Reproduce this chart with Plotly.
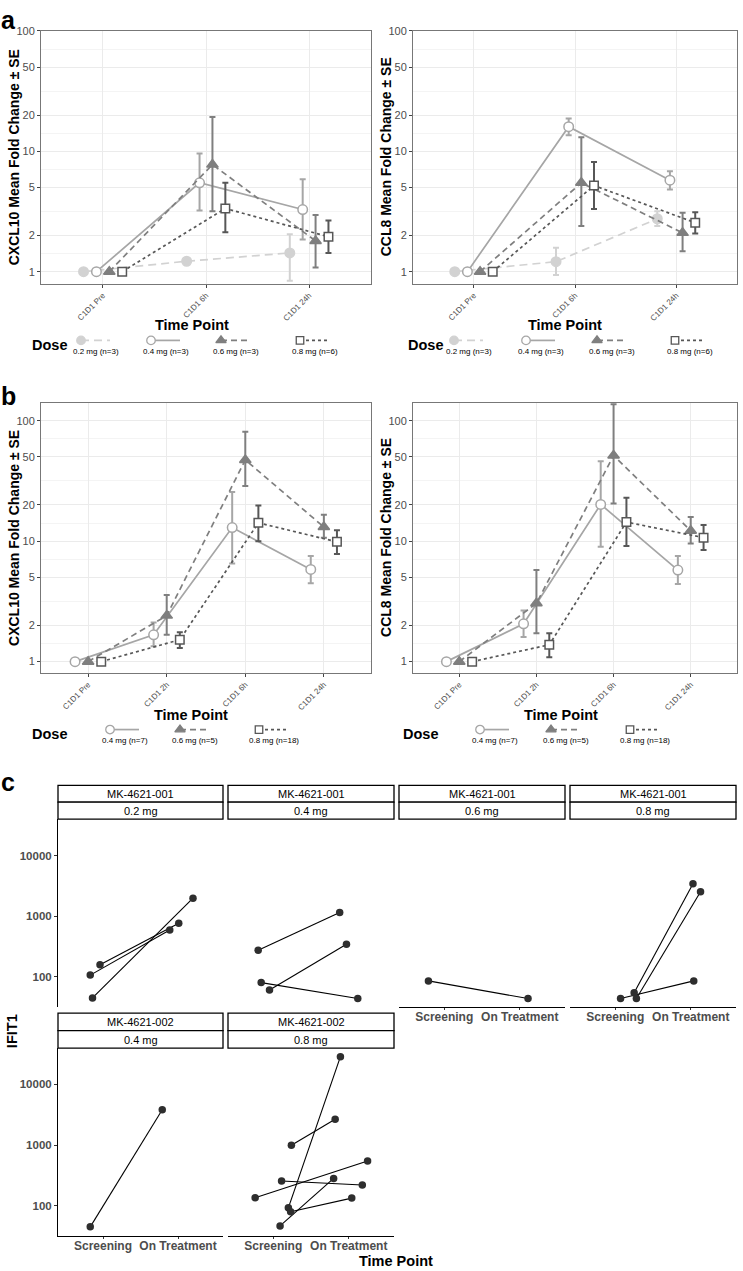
import numpy as np
import plotly.graph_objects as go

W, H = 743, 1271
FONT = "Liberation Sans"

# ---------------- data: panel a ----------------
a_times = ["C1D1 Pre", "C1D1 6h", "C1D1 24h"]
a_doses = ["0.2", "0.4", "0.6", "0.8"]
a_labels = ["0.2 mg (n=3)", "0.4 mg (n=3)", "0.6 mg (n=3)", "0.8 mg (n=6)"]
a_cxcl10_mean = [[1, 1.22, 1.43], [1, 5.47, 3.28], [1, 7.75, 1.80], [1, 3.35, 1.95]]
a_cxcl10_upper = [[1, 1.22, 2.04], [1, 9.6, 5.86], [1, 19.3, 2.95], [1, 5.47, 2.66]]
a_cxcl10_lower = [[1, 1.22, 0.84], [1, 3.22, 1.85], [1, 3.18, 1.08], [1, 2.12, 1.43]]
a_ccl8_mean = [[1, 1.21, 2.75], [1, 16.0, 5.75], [1, 5.47, 2.10], [1, 5.19, 2.55]]
a_ccl8_upper = [[1, 1.58, 3.18], [1, 18.7, 6.83], [1, 13.1, 3.08], [1, 8.16, 3.12]]
a_ccl8_lower = [[1, 0.94, 2.39], [1, 13.6, 4.81], [1, 2.39, 1.48], [1, 3.31, 2.07]]

# ---------------- data: panel b ----------------
b_times = ["C1D1 Pre", "C1D1 2h", "C1D1 6h", "C1D1 24h"]
b_doses = ["0.4", "0.6", "0.8"]
b_labels = ["0.4 mg (n=7)", "0.6 mg (n=5)", "0.8 mg (n=18)"]
b_cxcl10_mean = [[1, 1.67, 12.97, 5.83], [1, 2.41, 47.3, 13.1], [1, 1.52, 14.2, 9.87]]
b_cxcl10_upper = [[1, 2.11, 25.6, 7.52], [1, 3.58, 81, 16.6], [1, 1.75, 19.8, 12.3]]
b_cxcl10_lower = [[1, 1.34, 6.54, 4.47], [1, 1.67, 28.7, 10.7], [1, 1.30, 10.0, 7.81]]
b_ccl8_mean = [[1, 2.06, 20.2, 5.76], [1, 3.05, 51.4, 12.2], [1, 1.38, 14.4, 10.7]]
b_ccl8_upper = [[1, 2.66, 46.1, 7.52], [1, 5.76, 137, 15.9], [1, 1.72, 22.9, 13.6]]
b_ccl8_lower = [[1, 1.6, 8.98, 4.41], [1, 1.72, 20.5, 9.57], [1, 1.09, 9.1, 8.43]]

# ---------------- data: panel c (IFIT1) ----------------
c_studies = ["MK-4621-001", "MK-4621-001", "MK-4621-001", "MK-4621-001", "MK-4621-002", "MK-4621-002"]
c_dose_labels = ["0.2 mg", "0.4 mg", "0.6 mg", "0.8 mg", "0.4 mg", "0.8 mg"]
c_timepoints = ["Screening", "On Treatment"]
c_screening = [[107, 158, 45], [276, 61, 80.6], [86], [55, 44, 44], [45],
               [135.5, 256, 993, 46.7, 92.6, 79.6]]
c_on_treatment = [[594, 767, 1980], [1148, 346, 44], [44], [3444, 2540, 86], [3820],
                  [547, 220, 2670, 283, 28700, 134]]
# horizontal jitter (category units)
c_jitter_screening = [[-0.17, -0.04, -0.14], [-0.2, -0.05, -0.16], [-0.21], [0.25, 0.28, 0.07], [-0.17],
                      [-0.24, 0.11, 0.24, 0.09, 0.2, 0.23]]
c_jitter_on_treatment = [[-0.11, 0.01, 0.2], [-0.12, -0.03, 0.12], [0.11], [0.03, 0.13, 0.04], [-0.21],
                         [0.25, 0.18, -0.18, -0.2, -0.11, 0.04]]

# ---------------- styles ----------------
STY = {
    "0.2": dict(color="#d2d2d2", symbol="circle", fill="#d2d2d2", dash="8px,5px", size=9.5),
    "0.4": dict(color="#a6a6a6", symbol="circle", fill="white", dash="solid", size=9.5),
    "0.6": dict(color="#7f7f7f", symbol="triangle-up", fill="#7f7f7f", dash="6px,4px", size=10),
    "0.8": dict(color="#575757", symbol="square", fill="white", dash="3px,3px", size=8.5),
}


def dx(x0, x1):
    return [x0 / W, x1 / W]


def dy(y0, y1):
    return [1 - y1 / H, 1 - y0 / H]


fig = go.Figure()
layout = {}
annotations = []
shapes = []


def ann(text, x, y, size, bold=False, angle=0, color="black", xanchor="center", yanchor="middle"):
    annotations.append(dict(
        text=text, x=x / W, y=1 - y / H, xref="paper", yref="paper", showarrow=False,
        textangle=angle, xanchor=xanchor, yanchor=yanchor,
        font=dict(family=FONT, size=size, color=color, weight="bold" if bold else "normal")))


def line_panel(k, times, doses, mean, upper, lower, xdom, ydom, yrange, ytitle):
    n = len(doses)
    offsets = (np.arange(n) - (n - 1) / 2) * 0.5 / n
    base = np.arange(1, len(times) + 1)
    for i, d in enumerate(doses):
        s = STY[d]
        m = np.array(mean[i], float)
        u = np.array(upper[i], float)
        lo = np.array(lower[i], float)
        fig.add_trace(go.Scatter(
            x=base + offsets[i], y=m, mode="lines+markers", showlegend=False,
            xaxis=f"x{k}", yaxis=f"y{k}",
            line=dict(color=s["color"], width=1.7, dash=s["dash"]),
            marker=dict(symbol=s["symbol"], size=s["size"], color=s["fill"],
                        line=dict(color=s["color"], width=1.5)),
            error_y=dict(type="data", symmetric=False, array=u - m, arrayminus=m - lo,
                         color=s["color"], thickness=2, width=3),
        ))
    layout[f"xaxis{k}"] = dict(
        domain=dx(*xdom), anchor=f"y{k}", range=[0.4, len(times) + 0.6],
        tickmode="array", tickvals=list(base), ticktext=times, tickangle=-45,
        tickfont=dict(family=FONT, size=8, color="#4d4d4d"),
        showgrid=True, gridcolor="#ebebeb", gridwidth=1, zeroline=False,
        showline=True, mirror=True, linecolor="#777777", linewidth=1,
        ticks="outside", ticklen=3, tickcolor="#444444")
    ymaj = [1, 2, 5, 10, 20, 50, 100]
    layout[f"yaxis{k}"] = dict(
        domain=dy(*ydom), anchor=f"x{k}", type="log", range=yrange,
        tickmode="array", tickvals=ymaj, ticktext=[str(v) for v in ymaj],
        tickfont=dict(family=FONT, size=11, color="#4d4d4d"),
        showgrid=True, gridcolor="#ebebeb", gridwidth=1, zeroline=False,
        minor=dict(tickmode="array", tickvals=[1.414, 3.162, 7.071, 14.14, 31.62, 70.71],
                   showgrid=True, gridcolor="#f4f4f4", ticks=""),
        showline=True, mirror=True, linecolor="#777777", linewidth=1,
        ticks="outside", ticklen=3, tickcolor="#444444")
    ann(ytitle, xdom[0] - 27, (ydom[0] + ydom[1]) / 2, 14, bold=True, angle=-90)


# panel a
line_panel(1, a_times, a_doses, a_cxcl10_mean, a_cxcl10_upper, a_cxcl10_lower,
           (41, 371), (25, 279), [-0.1, 2], "CXCL10 Mean Fold Change ± SE")
line_panel(2, a_times, a_doses, a_ccl8_mean, a_ccl8_upper, a_ccl8_lower,
           (413, 737), (25, 279), [-0.1, 2], "CCL8 Mean Fold Change ± SE")
# panel b
line_panel(3, b_times, b_doses, b_cxcl10_mean, b_cxcl10_upper, b_cxcl10_lower,
           (41, 371), (399, 670), [-0.093, 2.146], "CXCL10 Mean Fold Change ± SE")
line_panel(4, b_times, b_doses, b_ccl8_mean, b_ccl8_upper, b_ccl8_lower,
           (413, 737), (399, 670), [-0.093, 2.146], "CCL8 Mean Fold Change ± SE")

# x titles a/b
ann("Time Point", 192, 321, 14.5, bold=True)
ann("Time Point", 565, 321, 14.5, bold=True)
ann("Time Point", 191, 712, 14.5, bold=True)
ann("Time Point", 561, 712, 14.5, bold=True)
# panel letters
ann("a", 8, 14, 25, bold=True)
ann("b", 8, 392, 25, bold=True)
ann("c", 8, 780, 25, bold=True)

# ---------------- legends (overlay axis in pixel units) ----------------
KEY = 11
layout[f"xaxis{KEY}"] = dict(domain=[0, 1], range=[0, W], visible=False, fixedrange=True, anchor=f"y{KEY}")
layout[f"yaxis{KEY}"] = dict(domain=[0, 1], range=[H, 0], visible=False, fixedrange=True, anchor=f"x{KEY}")


def legend_row(doses, labels, centers, key_y, lab_y, dose_x):
    ann("Dose", dose_x, (key_y + lab_y) / 2 - 1, 14.5, bold=True)
    for d, lab, c in zip(doses, labels, centers):
        s = STY[d]
        fig.add_trace(go.Scatter(
            x=[c - 15, c + 14], y=[key_y, key_y], mode="lines", showlegend=False,
            xaxis=f"x{KEY}", yaxis=f"y{KEY}", hoverinfo="skip",
            line=dict(color=s["color"], width=1.7, dash=s["dash"])))
        fig.add_trace(go.Scatter(
            x=[c - 15], y=[key_y], mode="markers", showlegend=False,
            xaxis=f"x{KEY}", yaxis=f"y{KEY}", hoverinfo="skip",
            marker=dict(symbol=s["symbol"], size=s["size"] - 1, color=s["fill"],
                        line=dict(color=s["color"], width=1.3))))
        ann(lab, c, lab_y, 8)


legend_row(a_doses, a_labels, [96, 166, 236, 315], 336, 347, 49)
legend_row(a_doses, a_labels, [469, 541, 612, 690], 336, 347, 426)
legend_row(b_doses, b_labels, [125, 195, 274], 727, 738, 49)
legend_row(b_doses, b_labels, [495, 566, 645], 727, 738, 421)

# ---------------- panel c ----------------
cols = [(58, 223), (228, 394), (399, 565), (570, 736)]
rows = [(817, 1006), (1047, 1236)]
facet_pos = [(0, 0), (0, 1), (0, 2), (0, 3), (1, 0), (1, 1)]
show_x = [False, False, True, True, True, True]
show_y = [True, False, False, False, True, False]
for f, (r, c) in enumerate(facet_pos):
    k = 5 + f
    x0, x1 = cols[c]
    y0, y1 = rows[r]
    # lines first
    for s_val, o_val, js, jo in zip(c_screening[f], c_on_treatment[f],
                                    c_jitter_screening[f], c_jitter_on_treatment[f]):
        fig.add_trace(go.Scatter(
            x=[1 + js, 2 + jo], y=[s_val, o_val], mode="lines", showlegend=False,
            xaxis=f"x{k}", yaxis=f"y{k}", line=dict(color="black", width=1.1)))
    xs = [1 + j for j in c_jitter_screening[f]] + [2 + j for j in c_jitter_on_treatment[f]]
    ys = list(c_screening[f]) + list(c_on_treatment[f])
    fig.add_trace(go.Scatter(
        x=xs, y=ys, mode="markers", showlegend=False, xaxis=f"x{k}", yaxis=f"y{k}",
        marker=dict(size=7.5, color="#2e2e2e")))
    layout[f"xaxis{k}"] = dict(
        domain=dx(x0, x1), anchor=f"y{k}", range=[0.4, 2.6],
        tickmode="array", tickvals=[1, 2], ticktext=c_timepoints,
        showticklabels=show_x[f], showline=show_x[f], linecolor="black", linewidth=1,
        ticks="outside" if show_x[f] else "", ticklen=2, tickcolor="#333333",
        ticklabelstandoff=-4,
        tickfont=dict(family=FONT, size=12, color="#4d4d4d", weight="bold"),
        showgrid=False, zeroline=False)
    layout[f"yaxis{k}"] = dict(
        domain=dy(y0, y1), anchor=f"x{k}", type="log", range=[1.5, 4.6],
        tickmode="array", tickvals=[100, 1000, 10000], ticktext=["100", "1000", "10000"],
        showticklabels=show_y[f], showline=show_y[f], linecolor="black", linewidth=1,
        ticks="outside" if show_y[f] else "", ticklen=3, tickcolor="#333333",
        tickfont=dict(family=FONT, size=11.5, color="#4d4d4d", weight="bold"),
        showgrid=False, zeroline=False)
    # strips
    sh = (y0 - (r == 0 and 783 or 1012)) / 2
    top = y0 - 2 * sh
    for j, txt in enumerate([c_studies[f], c_dose_labels[f]]):
        ya, yb = top + j * sh, top + (j + 1) * sh
        shapes.append(dict(type="rect", xref="paper", yref="paper",
                           x0=x0 / W, x1=x1 / W, y0=1 - yb / H, y1=1 - ya / H,
                           line=dict(color="black", width=1.3), fillcolor="white"))
        ann(txt, (x0 + x1) / 2, (ya + yb) / 2 + 0.5, 11)

ann("IFIT1", 12, 1030, 14.5, bold=True, angle=-90)
ann("Time Point", 396, 1261, 14.5, bold=True)

fig.update_layout(
    width=W, height=H, margin=dict(l=0, r=0, t=0, b=0),
    paper_bgcolor="white", plot_bgcolor="rgba(0,0,0,0)",
    showlegend=False, annotations=annotations, shapes=shapes,
    font=dict(family=FONT), **layout)

# remove the browser's default 8px body margin so the figure sits at the page origin
fig.write_html("out.html", config={"displayModeBar": False},
               post_script="document.body.style.margin='0';document.body.style.overflow='hidden';")
